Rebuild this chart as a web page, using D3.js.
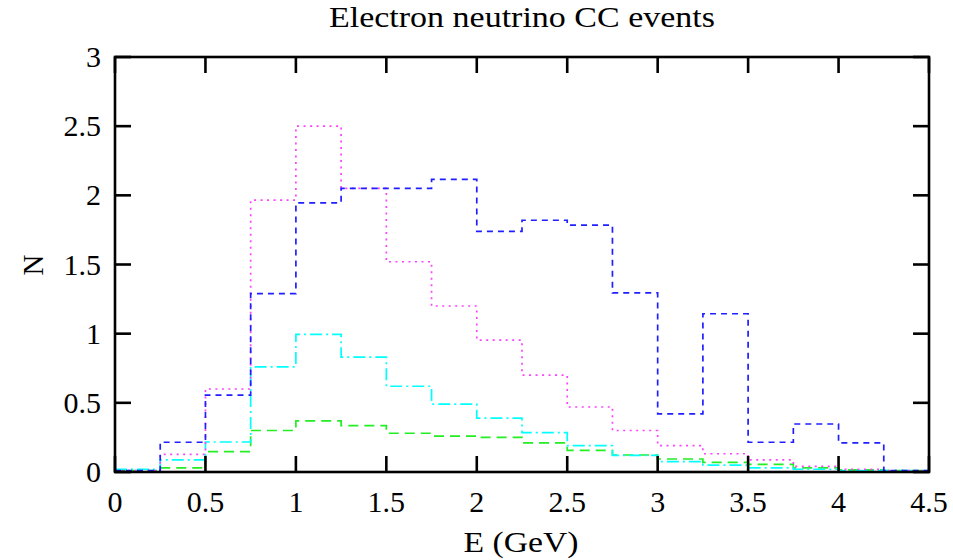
<!DOCTYPE html>
<html><head><meta charset="utf-8">
<script src="https://cdn.jsdelivr.net/npm/d3@7"></script>
<style>body{margin:0;background:#fff}svg{display:block}text{font-family:"Liberation Serif","DejaVu Serif",serif;fill:#000}</style>
</head><body><svg id="c" width="953" height="560"></svg>
<script>
const binEdges = [0,0.25,0.5,0.75,1,1.25,1.5,1.75,2,2.25,2.5,2.75,3,3.25,3.5,3.75,4,4.25,4.5];
const blueVals    = [0.01,0.215,0.556,1.29,1.946,2.05,2.05,2.115,1.74,1.82,1.785,1.295,0.42,1.144,0.215,0.347,0.21,0.01];
const magentaVals = [0.01,0.128,0.60,1.965,2.50,2.05,1.52,1.20,0.954,0.70,0.47,0.30,0.19,0.132,0.087,0.04,0.02,0.01];
const cyanVals    = [0.02,0.087,0.217,0.76,0.995,0.83,0.62,0.49,0.39,0.284,0.19,0.12,0.075,0.05,0.03,0.02,0.01,0.01];
const greenVals   = [0.01,0.03,0.147,0.30,0.37,0.335,0.28,0.26,0.25,0.21,0.157,0.123,0.094,0.07,0.055,0.03,0.015,0.01];
const xTicks = [0,0.5,1,1.5,2,2.5,3,3.5,4,4.5];
const yTicks = [0,0.5,1,1.5,2,2.5,3];
const titleText = "Electron neutrino CC events";
const xLabel = "E (GeV)";
const yLabel = "N";

const series = [
  {vals: greenVals, color:"#22ee22", dash:"10,6"},
  {vals: cyanVals, color:"#00ffff", dash:"12,4,2,4"},
  {vals: magentaVals, color:"#ff40ff", dash:"2,4.5"},
  {vals: blueVals, color:"#2020ff", dash:"6,5"}
];

const svg = d3.select("#c");
const L=115, R=929, T=57, B=472;
const x = d3.scaleLinear().domain([0,4.5]).range([L,R]);
const y = d3.scaleLinear().domain([0,3]).range([B,T]);

const line = d3.line().x(d=>x(d[0])).y(d=>y(d[1])).curve(d3.curveStepAfter);
series.forEach(s=>{
  const pts = s.vals.map((v,i)=>[binEdges[i],v]);
  pts.push([binEdges[binEdges.length-1], s.vals[s.vals.length-1]]);
  svg.append("path").attr("d", line(pts)).attr("fill","none")
    .attr("stroke", s.color).attr("stroke-width",1.7).attr("stroke-dasharray", s.dash);
});

// frame
svg.append("rect").attr("x",L).attr("y",T).attr("width",R-L).attr("height",B-T)
  .attr("fill","none").attr("stroke","#000").attr("stroke-width",2.6);
const tl=16;
xTicks.forEach(t=>{
  svg.append("line").attr("x1",x(t)).attr("x2",x(t)).attr("y1",B).attr("y2",B-tl).attr("stroke","#000").attr("stroke-width",2.6);
  svg.append("line").attr("x1",x(t)).attr("x2",x(t)).attr("y1",T).attr("y2",T+tl).attr("stroke","#000").attr("stroke-width",2.6);
  svg.append("text").attr("x",x(t)).attr("y",512).attr("text-anchor","middle").attr("font-size",30).text(String(t));
});
yTicks.forEach(t=>{
  svg.append("line").attr("x1",L).attr("x2",L+tl).attr("y1",y(t)).attr("y2",y(t)).attr("stroke","#000").attr("stroke-width",2.6);
  svg.append("line").attr("x1",R).attr("x2",R-tl).attr("y1",y(t)).attr("y2",y(t)).attr("stroke","#000").attr("stroke-width",2.6);
  svg.append("text").attr("x",101).attr("y",y(t)+10).attr("text-anchor","end").attr("font-size",30).text(String(t));
});
svg.append("text").attr("x",522).attr("y",27).attr("text-anchor","middle").attr("font-size",29)
  .attr("textLength",386).attr("lengthAdjust","spacingAndGlyphs").text(titleText);
svg.append("text").attr("x",521).attr("y",552).attr("text-anchor","middle").attr("font-size",29)
  .attr("textLength",115).attr("lengthAdjust","spacingAndGlyphs").text(xLabel);
svg.append("text").attr("x",0).attr("y",0).attr("text-anchor","middle").attr("font-size",29)
  .attr("transform","translate(43,265) rotate(-90)").text(yLabel);
</script></body></html>
